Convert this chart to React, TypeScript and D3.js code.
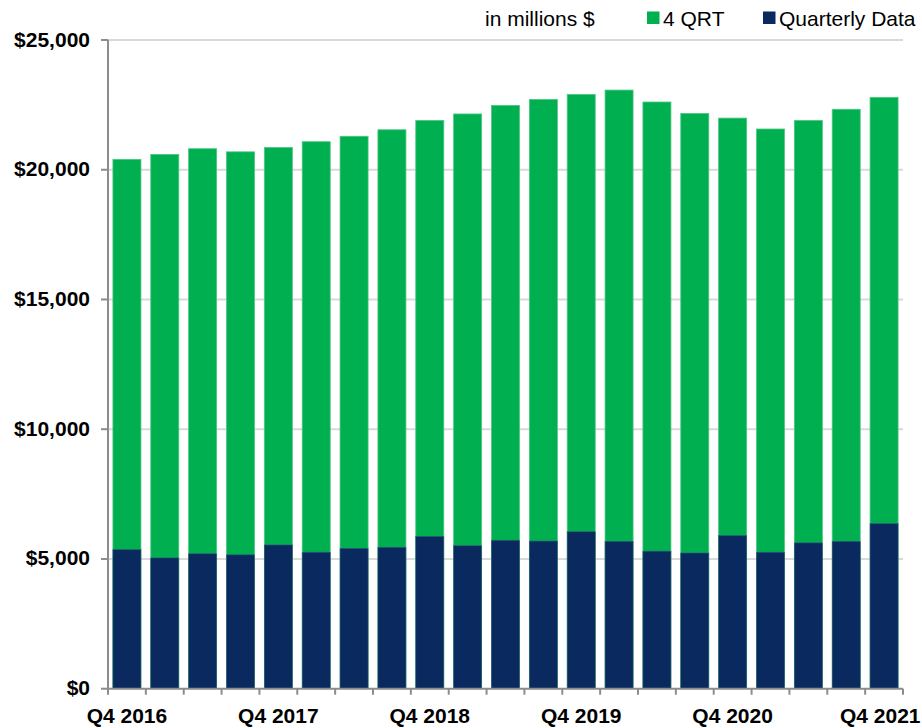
import React from "react";
import * as d3 from "d3";

// Quarter labels, Q4 2016 through Q4 2021
const quarters: string[] = [
  "Q4 2016", "Q1 2017", "Q2 2017", "Q3 2017",
  "Q4 2017", "Q1 2018", "Q2 2018", "Q3 2018",
  "Q4 2018", "Q1 2019", "Q2 2019", "Q3 2019",
  "Q4 2019", "Q1 2020", "Q2 2020", "Q3 2020",
  "Q4 2020", "Q1 2021", "Q2 2021", "Q3 2021",
  "Q4 2021",
];

// Trailing four-quarter totals (millions $)
const fourQrt: number[] = [
  20400, 20590, 20810, 20690, 20860, 21080, 21290, 21540, 21900, 22150,
  22480, 22710, 22900, 23070, 22610, 22170, 21990, 21570, 21900, 22330,
  22790,
];

// Single-quarter values (millions $)
const quarterly: number[] = [
  5360, 5040, 5200, 5160, 5540, 5260, 5410, 5450, 5870, 5510,
  5720, 5690, 6050, 5680, 5300, 5230, 5900, 5260, 5620, 5680,
  6360,
];

const yTicks: number[] = [0, 5000, 10000, 15000, 20000, 25000];
const labelledQuarters: string[] = ["Q4 2016", "Q4 2017", "Q4 2018", "Q4 2019", "Q4 2020", "Q4 2021"];

const W = 922;
const H = 728;
const left = 108;
const right = 903;
const top = 40;
const bottom = 688.7;

const GREEN = "#00AF50";
const NAVY = "#0A295E";
const AXIS = "#8C8C8C";
const GRID = "#D9D9D9";
const FONT = "'Liberation Sans', Arial, sans-serif";
const LABEL_SIZE = 21;

export default function App() {
  const x = d3.scaleBand<string>().domain(quarters).range([left, right]).paddingInner(0.26).paddingOuter(0.13);
  const y = d3.scaleLinear().domain([0, 25000]).range([bottom, top]);
  const step = x.step();
  const money = (v: number) => "$" + d3.format(",")(v);
  // approximate half-width of a bold "Q4 20xx" label, used to keep the last one inside the frame
  const halfLabel = (3.836 * LABEL_SIZE) / 2;

  return (
    <svg width={W} height={H} style={{ position: "absolute", left: 0, top: 0, background: "#fff" }}>
      {/* horizontal gridlines */}
      {yTicks.filter((t) => t > 0).map((t) => (
        <line key={"g" + t} x1={left} x2={right} y1={y(t)} y2={y(t)} stroke={GRID} strokeWidth={2} />
      ))}

      {/* 4 QRT bars (behind) */}
      {quarters.map((q, i) => (
        <rect key={"a" + q} x={x(q)} y={y(fourQrt[i])} width={x.bandwidth()} height={y(0) - y(fourQrt[i])}
          fill={GREEN} stroke="#4cc783" strokeWidth={0.8} />
      ))}

      {/* quarterly bars (front) */}
      {quarters.map((q, i) => (
        <rect key={"b" + q} x={x(q)} y={y(quarterly[i])} width={x.bandwidth()} height={y(0) - y(quarterly[i])}
          fill={NAVY} stroke="#2f5f78" strokeWidth={0.6} />
      ))}

      {/* y axis */}
      <line x1={left} x2={left} y1={top} y2={bottom} stroke={AXIS} strokeWidth={2} />
      {yTicks.map((t) => (
        <g key={"y" + t}>
          <line x1={left - 7} x2={left} y1={y(t)} y2={y(t)} stroke={AXIS} strokeWidth={2} />
          <text x={90} y={y(t) + 6.5} textAnchor="end" fontFamily={FONT} fontWeight="bold" fontSize={LABEL_SIZE}
            fill="#000">{money(t)}</text>
        </g>
      ))}

      {/* x axis */}
      <line x1={left} x2={right} y1={bottom} y2={bottom} stroke={AXIS} strokeWidth={2} />
      {d3.range(quarters.length + 1).map((i) => (
        <line key={"xt" + i} x1={left + i * step} x2={left + i * step} y1={bottom} y2={bottom + 6} stroke={AXIS} strokeWidth={2} />
      ))}
      {labelledQuarters.map((q) => {
        const cx = Math.min((x(q) as number) + x.bandwidth() / 2, W - 1.5 - halfLabel);
        return (
          <text key={"xl" + q} x={cx} y={722.5} textAnchor="middle"
            fontFamily={FONT} fontWeight="bold" fontSize={LABEL_SIZE} fill="#000">{q}</text>
        );
      })}

      {/* legend */}
      <text x={485} y={26} fontFamily={FONT} fontSize={21} fill="#000">in millions $</text>
      <rect x={647} y={11.5} width={12.5} height={12.5} fill={GREEN} />
      <text x={663} y={26} fontFamily={FONT} fontSize={21} fill="#000">4 QRT</text>
      <rect x={763} y={11.5} width={12.5} height={12.5} fill={NAVY} />
      <text x={779} y={26} fontFamily={FONT} fontSize={21} fill="#000">Quarterly Data</text>
    </svg>
  );
}
